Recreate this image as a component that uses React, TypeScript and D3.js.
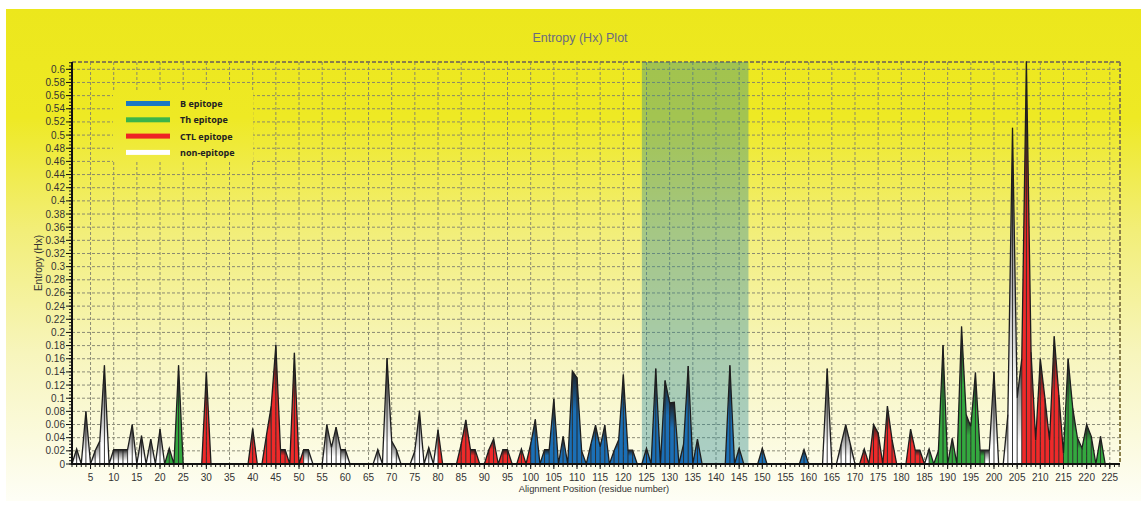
import React from "react";
import * as d3 from "d3";

const W = 1145;
const H = 508;

// Entropy per alignment position 1..225
const entropyValues = [
  0, 0.023, 0, 0.08, 0, 0.02, 0.035, 0.15, 0, 0.022, // 1-10
  0.022, 0.022, 0.022, 0.06, 0, 0.043, 0, 0.038, 0, 0.053, // 11-20
  0, 0.024, 0, 0.15, 0, 0, 0, 0, 0, 0.14, // 21-30
  0, 0, 0, 0, 0, 0, 0, 0, 0, 0.054, // 31-40
  0, 0, 0.045, 0.088, 0.181, 0.022, 0.022, 0, 0.169, 0, // 41-50
  0.022, 0.022, 0, 0, 0, 0.06, 0.025, 0.056, 0.022, 0.022, // 51-60
  0, 0, 0, 0, 0, 0, 0.022, 0, 0.161, 0.035, // 61-70
  0.022, 0, 0, 0, 0.02, 0.081, 0, 0.025, 0, 0.052, // 71-80
  0, 0, 0, 0, 0.03, 0.067, 0.022, 0.022, 0, 0, // 81-90
  0.022, 0.038, 0, 0.022, 0.022, 0, 0, 0.023, 0, 0.03, // 91-100
  0.068, 0, 0.022, 0.022, 0.099, 0, 0.042, 0, 0.141, 0.131, // 101-110
  0.02, 0, 0.03, 0.059, 0.026, 0.059, 0, 0.02, 0.037, 0.136, // 111-120
  0.021, 0.021, 0, 0, 0.024, 0, 0.145, 0, 0.127, 0.093, // 121-130
  0.094, 0, 0.03, 0.149, 0, 0.038, 0, 0, 0, 0, // 131-140
  0, 0, 0.15, 0, 0.024, 0, 0, 0, 0, 0.024, // 141-150
  0, 0, 0, 0, 0, 0, 0, 0, 0.022, 0, // 151-160
  0, 0, 0, 0.145, 0, 0, 0.03, 0.06, 0.03, 0, // 161-170
  0, 0.023, 0, 0.06, 0.047, 0, 0.088, 0.037, 0, 0, // 171-180
  0, 0.053, 0.021, 0.021, 0, 0.023, 0, 0.02, 0.181, 0, // 181-190
  0.039, 0, 0.209, 0.075, 0.057, 0.139, 0.021, 0.021, 0.021, 0.14, // 191-200
  0, 0, 0.075, 0.511, 0.1, 0.16, 0.612, 0.17, 0.036, 0.16, // 201-210
  0.1, 0.036, 0.194, 0.105, 0.016, 0.16, 0.085, 0.04, 0.024, 0.06, // 211-220
  0.042, 0, 0.042, 0, 0, // 221-225
];

// Segment ranges [start, end]: segment i -> i+1 gets the category
const bEpitopeSegments = [[100, 159]];
const thEpitopeSegments = [[21, 24], [186, 197], [215, 224]];
const ctlEpitopeSegments = [[29, 30], [39, 40], [42, 50], [80, 99], [171, 184], [206, 214]];

const highlightRange = [124, 147];

const yTickValues = d3.range(0, 31).map((i) => +(i * 0.02).toFixed(2));
const yMinorValues = d3.range(0, 123).map((i) => +(i * 0.005).toFixed(3));
const xTickValues = d3.range(5, 226, 5);
const xMinorValues = d3.range(1, 228, 1);

const legendLabels = ["B epitope", "Th epitope", "CTL epitope", "non-epitope"];
const legendKeys = ["B", "Th", "CTL", "non"];

const categoryColors: Record<string, string> = {
  B: "#1b6fb5",
  Th: "#34a83f",
  CTL: "#ee2a2a",
  non: "#ffffff",
};
const legendColors: Record<string, string> = {
  B: "#1a78c2",
  Th: "#3cb44a",
  CTL: "#ee2424",
  non: "#ffffff",
};

const m = { left: 72, right: 1120, top: 62, bottom: 464 };

function segCategory(i: number): string {
  const inR = (rs: number[][]) => rs.some(([a, b]) => i >= a && i <= b);
  if (inR(bEpitopeSegments)) return "B";
  if (inR(thEpitopeSegments)) return "Th";
  if (inR(ctlEpitopeSegments)) return "CTL";
  return "non";
}

export default function App() {
  const x = d3.scaleLinear().domain([1, 227.2]).range([m.left, m.right]);
  const y = d3.scaleLinear().domain([0, 0.6]).range([m.bottom, 69.3]);

  const pts = entropyValues.map((v, k) => ({ p: k + 1, v }));
  const area = d3
    .area<{ p: number; v: number }>()
    .x((d) => x(d.p))
    .y0(y(0))
    .y1((d) => y(d.v));
  const line = d3
    .line<{ p: number; v: number }>()
    .x((d) => x(d.p))
    .y((d) => y(d.v));

  const segments = [];
  for (let k = 0; k < pts.length - 1; k++) {
    const a = pts[k];
    const b = pts[k + 1];
    if (a.v === 0 && b.v === 0) continue;
    segments.push({ d: area([a, b]) as string, cat: segCategory(a.p), key: a.p });
  }

  const font = "'Liberation Sans', Arial, sans-serif";

  return (
    <svg
      width={W}
      height={H}
      style={{ position: "absolute", left: 0, top: 0, display: "block" }}
    >
      <defs>
        <linearGradient id="bgGrad" x1="0" y1="9" x2="0" y2="501" gradientUnits="userSpaceOnUse">
          <stop offset="0" stopColor="#ece71c" />
          <stop offset="0.22" stopColor="#eee924" />
          <stop offset="0.45" stopColor="#f2ee78" />
          <stop offset="0.7" stopColor="#f7f5bc" />
          <stop offset="1" stopColor="#fefef6" />
        </linearGradient>
        {legendKeys.map((k) =>
          k === "non" ? (
            <linearGradient key={k} id={`g-${k}`} x1="0" y1="0" x2="0" y2="1">
              <stop offset="0" stopColor="#1e1e1e" />
              <stop offset="0.3" stopColor="#8c8c8c" />
              <stop offset="0.8" stopColor="#ffffff" />
            </linearGradient>
          ) : (
            <linearGradient key={k} id={`g-${k}`} x1="0" y1="0" x2="0" y2="1">
              <stop offset="0" stopColor="#1e1e1e" />
              <stop offset="0.42" stopColor={categoryColors[k]} />
              <stop offset="1" stopColor={categoryColors[k]} />
            </linearGradient>
          )
        )}
      </defs>

      <rect x={0} y={0} width={W} height={H} fill="#ffffff" />
      <rect x={6} y={9} width={1135} height={492} fill="url(#bgGrad)" />

      <text
        x={580}
        y={42}
        textAnchor="middle"
        fontFamily={font}
        fontSize={12.5}
        fill="#6a6a80"
      >
        Entropy (Hx) Plot
      </text>

      {/* grid */}
      <g stroke="#80806f" strokeWidth={1} strokeDasharray="3,2" opacity={0.9}>
        {xTickValues.map((t) => (
          <line key={`gx${t}`} x1={x(t)} x2={x(t)} y1={m.top} y2={m.bottom} />
        ))}
        {yTickValues
          .filter((t) => t > 0)
          .map((t) => (
            <line key={`gy${t}`} x1={m.left} x2={m.right} y1={y(t)} y2={y(t)} />
          ))}
      </g>
      <line
        x1={m.left}
        x2={m.right}
        y1={m.top}
        y2={m.top}
        stroke="#8a7f4a"
        strokeWidth={2}
        strokeDasharray="4,2"
      />
      <line
        x1={m.right}
        x2={m.right}
        y1={m.top}
        y2={m.bottom}
        stroke="#8a7f4a"
        strokeWidth={2}
        strokeDasharray="4,2"
      />

      {/* highlight band */}
      <rect
        x={x(highlightRange[0])}
        y={m.top}
        width={x(highlightRange[1]) - x(highlightRange[0])}
        height={m.bottom - m.top}
        fill="rgb(50,140,150)"
        opacity={0.4}
      />

      {/* legend */}
      <rect x={113} y={92} width={140} height={70} fill="url(#bgGrad)" />
      {legendKeys.map((k, i) => (
        <g key={k}>
          <rect x={126} y={101 + i * 16.3} width={44} height={5} fill={legendColors[k]} />
          <text
            x={180}
            y={107 + i * 16.3}
            fontFamily="'Open Sans', 'Noto Sans', sans-serif"
            fontWeight={700}
            fontSize={9}
            fill="#222"
          >
            {legendLabels[i]}
          </text>
        </g>
      ))}

      {/* data */}
      <g>
        {segments.map((s) => (
          <path key={s.key} d={s.d} fill={`url(#g-${s.cat})`} stroke="none" />
        ))}
      </g>
      <g stroke="#222" strokeWidth={0.9}>
        {pts
          .filter((d) => d.v > 0)
          .map((d) => (
            <line key={`v${d.p}`} x1={x(d.p)} x2={x(d.p)} y1={y(0)} y2={y(d.v)} />
          ))}
      </g>
      <path d={line(pts) as string} fill="none" stroke="#1e1e1e" strokeWidth={1.3} strokeLinejoin="miter" />

      {/* axes */}
      <g stroke="#111">
        {xMinorValues.map((t) => (
          <line key={`xm${t}`} x1={x(t)} x2={x(t)} y1={m.bottom} y2={m.bottom + 3} strokeWidth={1} />
        ))}
        {xTickValues.map((t) => (
          <line key={`xt${t}`} x1={x(t)} x2={x(t)} y1={m.bottom} y2={m.bottom + 5} strokeWidth={1} />
        ))}
        {yMinorValues.map((t) => (
          <line key={`ym${t}`} x1={m.left - 3} x2={m.left} y1={y(t)} y2={y(t)} strokeWidth={1} />
        ))}
        {yTickValues.map((t) => (
          <line key={`yt${t}`} x1={m.left - 6} x2={m.left} y1={y(t)} y2={y(t)} strokeWidth={1} />
        ))}
        <line x1={m.left} x2={m.left} y1={m.top} y2={m.bottom + 1} strokeWidth={2} />
        <line x1={m.left - 1} x2={m.right} y1={m.bottom} y2={m.bottom} strokeWidth={2.2} />
      </g>
      <g fontFamily={font} fontSize={10} fill="#333">
        {xTickValues.map((t) => (
          <text key={`xl${t}`} x={x(t)} y={m.bottom + 17} textAnchor="middle">
            {t}
          </text>
        ))}
        {yTickValues.map((t) => (
          <text key={`yl${t}`} x={m.left - 7} y={y(t) + 3.5} textAnchor="end">
            {String(t)}
          </text>
        ))}
        <text x={594} y={492} textAnchor="middle" fontSize={9.3}>
          Alignment Position (residue number)
        </text>
        <text x={42} y={263} textAnchor="middle" transform="rotate(-90 42 263)">
          Entropy (Hx)
        </text>
      </g>
    </svg>
  );
}
